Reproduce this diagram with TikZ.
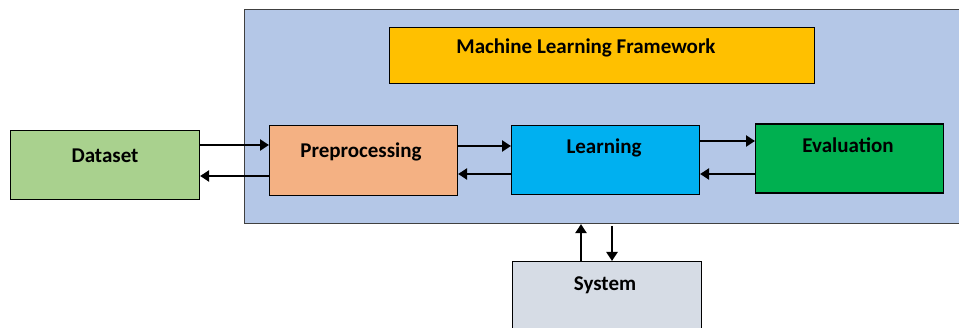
\documentclass[tikz,border=0pt]{standalone}
\usepackage{fontspec}
\setmainfont{Carlito}
\usetikzlibrary{arrows.meta}
\definecolor{framec}{HTML}{B4C7E7}
\definecolor{mlc}{HTML}{FFC000}
\definecolor{datac}{HTML}{A9D18E}
\definecolor{prec}{HTML}{F4B183}
\definecolor{learnc}{HTML}{00B0F0}
\definecolor{evalc}{HTML}{00B050}
\definecolor{sysc}{HTML}{D6DCE5}
\begin{document}
\begin{tikzpicture}[x=1pt,y=-1pt,
  box/.style={draw=black, line width=1.1pt, rectangle, inner sep=0pt, anchor=north west},
  lbl/.style={font=\bfseries\fontsize{21}{24}\selectfont, inner sep=0pt},
  arr/.style={line width=2.6pt, -{Triangle[length=9pt,width=11pt]}}]
\useasboundingbox (0,0) rectangle (959,328);
\clip (0,0) rectangle (959,328);
\fill[white] (0,0) rectangle (959,328);
\node[box, draw=black!75, fill=framec, minimum width=740pt, minimum height=214pt] (frame) at (244,9) {};
\node[box, fill=mlc, minimum width=425pt, minimum height=56pt] (ml) at (389,27) {};
\node[box, fill=datac, minimum width=189pt, minimum height=69pt] (data) at (10,130) {};
\node[box, fill=prec, minimum width=188pt, minimum height=70pt] (pre) at (269,125) {};
\node[box, fill=learnc, minimum width=188pt, minimum height=69pt] (learn) at (511,125) {};
\node[box, fill=evalc, minimum width=188pt, minimum height=69pt] (eval) at (755,123.5) {};
\node[box, fill=sysc, minimum width=189pt, minimum height=90pt] (sys) at (512,261) {};
\node[lbl] (tml) at (586,48) {Machine Learning Framework};
\node[lbl] (tdata) at (105,156) {Dataset};
\node[lbl] (tpre) at (361,152) {Preprocessing};
\node[lbl] (tlearn) at (604,148) {Learning};
\node[lbl] (teval) at (848,145) {Evaluation};
\node[lbl] (tsys) at (605,285) {System};
\draw[arr] (data.east |- 0,145) -- (pre.west |- 0,145);
\draw[arr] (pre.west |- 0,176) -- (data.east |- 0,176);
\draw[arr] (pre.east |- 0,146) -- (learn.west |- 0,146);
\draw[arr] (learn.west |- 0,174) -- (pre.east |- 0,174);
\draw[arr] (learn.east |- 0,141) -- (eval.west |- 0,141);
\draw[arr] (eval.west |- 0,174) -- (learn.east |- 0,174);
\draw[arr] (sys.north -| 581,0) -- (frame.south -| 581,0);
\draw[arr] (612,226) -- (sys.north -| 612,0);
\end{tikzpicture}
\end{document}
